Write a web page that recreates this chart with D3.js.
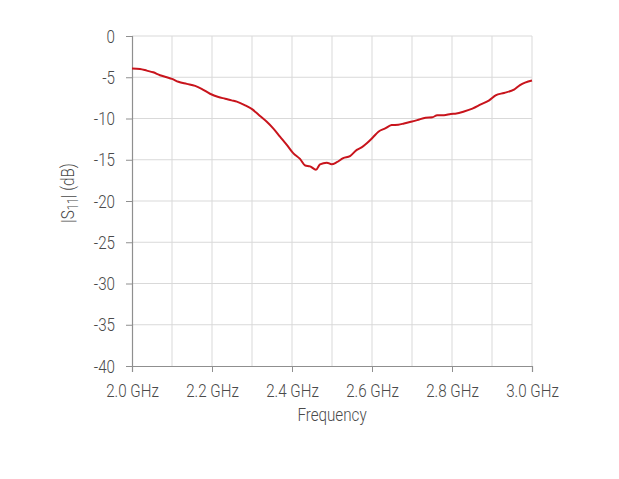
<!DOCTYPE html>
<html>
<head>
<meta charset="utf-8">
<script src="https://cdn.jsdelivr.net/npm/d3@7"></script>
<style>
  body { margin: 0; background: #fff; }
  svg text { font-family: Roboto, "Open Sans", sans-serif; font-weight: 300; fill: #4a4a4a; }
</style>
</head>
<body>
<svg id="chart" width="619" height="479"></svg>
<script>
const freqGHz = [2.000, 2.020, 2.037, 2.053, 2.070, 2.087, 2.100, 2.116, 2.137, 2.158, 2.174, 2.195, 2.216, 2.233, 2.249, 2.262, 2.283, 2.301, 2.320, 2.337, 2.353, 2.370, 2.387, 2.403, 2.420, 2.433, 2.445, 2.460, 2.470, 2.487, 2.499, 2.512, 2.528, 2.545, 2.562, 2.574, 2.587, 2.602, 2.616, 2.633, 2.649, 2.666, 2.680, 2.697, 2.713, 2.734, 2.751, 2.763, 2.780, 2.797, 2.811, 2.830, 2.851, 2.872, 2.893, 2.909, 2.930, 2.955, 2.970, 3.000];
const s11dB = [-3.94, -4.0, -4.2, -4.4, -4.75, -5.0, -5.2, -5.55, -5.8, -6.05, -6.4, -7.0, -7.4, -7.6, -7.8, -7.95, -8.4, -8.9, -9.7, -10.4, -11.2, -12.2, -13.2, -14.2, -14.9, -15.7, -15.8, -16.2, -15.55, -15.35, -15.55, -15.3, -14.8, -14.55, -13.8, -13.5, -13.0, -12.3, -11.6, -11.2, -10.8, -10.75, -10.6, -10.4, -10.2, -9.9, -9.85, -9.6, -9.6, -9.45, -9.4, -9.15, -8.8, -8.3, -7.8, -7.2, -6.9, -6.5, -5.95, -5.4];
const xTicks = [2.0, 2.2, 2.4, 2.6, 2.8, 3.0];
const xGrid = [2.1, 2.2, 2.3, 2.4, 2.5, 2.6, 2.7, 2.8, 2.9, 3.0];
const yTicks = [0, -5, -10, -15, -20, -25, -30, -35, -40];
const xTitle = "Frequency";

const SX = 0.8; // horizontal condensing of the light sans font
const FS = 19;
const svg = d3.select("#chart");
const mL = 132, mR = 532, mT = 36, mB = 366;
const x = d3.scaleLinear().domain([2.0, 3.0]).range([mL, mR]);
const y = d3.scaleLinear().domain([0, -40]).range([mT, mB]);

// gridlines
svg.append("g").selectAll("line").data(xGrid).join("line")
  .attr("x1", d => x(d)).attr("x2", d => x(d))
  .attr("y1", mT).attr("y2", mB)
  .attr("stroke", "#d9d9d9").attr("stroke-width", 1);
svg.append("g").selectAll("line").data(yTicks.filter(d => d !== -40)).join("line")
  .attr("x1", mL).attr("x2", mR)
  .attr("y1", d => y(d)).attr("y2", d => y(d))
  .attr("stroke", "#d9d9d9").attr("stroke-width", 1);

// axes
const xAxis = svg.append("g").attr("transform", `translate(0,${mB})`)
  .call(d3.axisBottom(x).tickValues(xTicks).tickFormat(d => d3.format(".1f")(d) + " GHz").tickSize(6).tickPadding(12));
const yAxis = svg.append("g").attr("transform", `translate(${mL},0)`)
  .call(d3.axisLeft(y).tickValues(yTicks).tickFormat(d => d === 0 ? "0" : "-" + Math.abs(d)).tickSize(6).tickPadding(11));
[xAxis, yAxis].forEach(g => {
  g.select(".domain").attr("stroke", "#8f8f8f").attr("stroke-width", 1.2);
  g.selectAll(".tick line").attr("stroke", "#8f8f8f");
  g.selectAll(".tick text").attr("font-size", FS).attr("fill", "#4a4a4a")
    .style("font-family", "Roboto, sans-serif").style("font-weight", 300)
    .each(function() {
      const t = d3.select(this);
      const x0 = +t.attr("x") || 0;
      t.attr("x", x0 / SX).attr("transform", `scale(${SX},1)`);
    });
});

// line
const line = d3.line().x((d, i) => x(freqGHz[i])).y(d => y(d)).curve(d3.curveMonotoneX);
svg.append("path").datum(s11dB)
  .attr("d", line).attr("fill", "none")
  .attr("stroke", "#c8141c").attr("stroke-width", 2);

// titles
svg.append("text").attr("transform", `translate(${(mL + mR) / 2},421) scale(${SX},1)`)
  .attr("text-anchor", "middle").attr("font-size", FS).text(xTitle);
const yt = svg.append("text").attr("transform", `translate(74,193) rotate(-90) scale(${SX},1)`)
  .attr("text-anchor", "middle").attr("font-size", FS);
yt.append("tspan").text("|S");
yt.append("tspan").attr("font-size", 14).attr("dy", 4).text("11");
yt.append("tspan").attr("dy", -4).text("| (dB)");
</script>
</body>
</html>
